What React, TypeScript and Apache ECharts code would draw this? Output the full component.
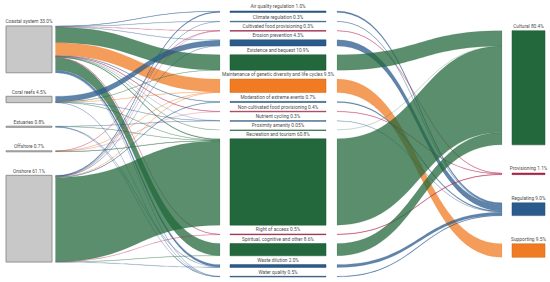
import React, { useEffect, useRef } from 'react';
import * as echarts from 'echarts';

// ---------- data ----------
const sources = ['Coastal system', 'Coral reefs', 'Estuaries', 'Offshore', 'Onshore'];
const sourcePct = [33.0, 4.5, 0.8, 0.7, 61.1];
const sourceLabels = ['33.0%', '4.5%', '0.8%', '0.7%', '61.1%'];

const services = [
  'Air quality regulation',
  'Climate regulation',
  'Cultivated food provisioning',
  'Erosion prevention',
  'Existence and bequest',
  'Maintenance of genetic diversity and life cycles',
  'Moderation of extreme events',
  'Non-cultivated food provisioning',
  'Nutrient cycling',
  'Proximity amenity',
  'Recreation and tourism',
  'Right of access',
  'Spiritual, cognitive and other',
  'Waste dilution',
  'Water quality',
];
const servicePct = [1.0, 0.3, 0.3, 4.3, 10.9, 9.5, 0.7, 0.4, 0.3, 0.05, 60.8, 0.5, 8.6, 2.0, 0.5];
const serviceLabels = ['1.0%', '0.3%', '0.3%', '4.3%', '10.9%', '9.5%', '0.7%', '0.4%', '0.3%', '0.05%', '60.8%', '0.5%', '8.6%', '2.0%', '0.5%'];
const serviceGroup = [
  'Regulating', 'Regulating', 'Provisioning', 'Regulating', 'Cultural', 'Supporting', 'Regulating',
  'Provisioning', 'Regulating', 'Cultural', 'Cultural', 'Provisioning', 'Cultural', 'Regulating', 'Regulating',
];

const groups = ['Cultural', 'Provisioning', 'Regulating', 'Supporting'];
const groupPct = [80.4, 1.1, 9.0, 9.5];
const groupLabels = ['80.4%', '1.1%', '9.0%', '9.5%'];

// flows from each source to each service (same order as services)
const coastalFlows = [0.3, 0.2, 0.2, 0.3, 10.8, 9.0, 0.4, 0.3, 0.1, 0.05, 0.6, 0.4, 8.5, 1.6, 0.15];
const coralFlows = [0, 0, 0, 3.9, 0.1, 0.1, 0, 0, 0.05, 0, 0.3, 0, 0, 0, 0.05];
const estuaryFlows = [0, 0, 0, 0, 0, 0, 0, 0, 0.15, 0, 0.2, 0, 0, 0.15, 0.3];
const offshoreFlows = [0, 0, 0.05, 0, 0, 0.15, 0, 0.1, 0, 0, 0.4, 0, 0, 0, 0];
const onshoreFlows = [0.7, 0.1, 0.05, 0.1, 0, 0.25, 0.3, 0, 0, 0, 59.3, 0.1, 0.1, 0.25, 0];
const sourceFlows = [coastalFlows, coralFlows, estuaryFlows, offshoreFlows, onshoreFlows];

// ---------- styling / layout ----------
const groupColor: Record<string, string> = {
  Cultural: '#23683c',
  Provisioning: '#b3264f',
  Regulating: '#2b5b8c',
  Supporting: '#f07b22',
};
const groupStroke: Record<string, string> = {
  Cultural: '#1b5430',
  Provisioning: '#8f1d3f',
  Regulating: '#214a72',
  Supporting: '#c9641a',
};

const W = 550;
const H = 282;
const PX_PER_UNIT = 1.42;
const Y_MAX = H / PX_PER_UNIT;
const CENTER = 144 / PX_PER_UNIT;
const COL = {
  left: { x0: 6, x1: 52, out: 55.5, gap: 23.5 / PX_PER_UNIT },
  mid: { x0: 230, x1: 326, in: 220, out: 337, gap: 8.84 / PX_PER_UNIT },
  right: { x0: 512, x1: 545, in: 502, gap: 28.2 / PX_PER_UNIT },
};

function stack(values: number[], gap: number) {
  const total = values.reduce((a, b) => a + b, 0) + gap * (values.length - 1);
  let y = CENTER - total / 2;
  return values.map((v) => {
    const top = y;
    y += v + gap;
    return top;
  });
}

function buildOption() {
  const leftTop = stack(sourcePct, COL.left.gap);
  const midTop = stack(servicePct, COL.mid.gap);
  const rightTop = stack(groupPct, COL.right.gap);

  // nodes: [x0, x1, yTop, yBot, kind, index]
  const nodes: any[] = [];
  sources.forEach((s, i) => nodes.push([COL.left.x0, COL.left.x1, leftTop[i], leftTop[i] + sourcePct[i], 0, i]));
  services.forEach((s, i) => nodes.push([COL.mid.x0, COL.mid.x1, midTop[i], midTop[i] + servicePct[i], 1, i]));
  groups.forEach((g, i) => nodes.push([COL.right.x0, COL.right.x1, rightTop[i], rightTop[i] + groupPct[i], 2, i]));

  // links: [x0, y0, x1, y1, value, groupIndex]
  const links: any[] = [];
  const srcOffset = sources.map(() => 0);
  const midInOffset = services.map(() => 0);
  const srcStart: number[][] = sources.map(() => []);
  sources.forEach((s, si) => {
    services.forEach((sv, ti) => {
      const v = sourceFlows[si][ti];
      srcStart[si][ti] = leftTop[si] + srcOffset[si];
      srcOffset[si] += v;
    });
  });
  sources.forEach((s, si) => {
    services.forEach((sv, ti) => {
      const v = sourceFlows[si][ti];
      if (v > 0) {
        const yEnd = midTop[ti] + midInOffset[ti];
        links.push([COL.left.out, srcStart[si][ti], COL.mid.in, yEnd, v, groups.indexOf(serviceGroup[ti])]);
      }
      midInOffset[ti] += v;
    });
  });
  const rightOffset = groups.map(() => 0);
  services.forEach((sv, ti) => {
    const gi = groups.indexOf(serviceGroup[ti]);
    const v = servicePct[ti];
    links.push([COL.mid.out, midTop[ti], COL.right.in, rightTop[gi] + rightOffset[gi], v, gi]);
    rightOffset[gi] += v;
  });

  const labelFont = 'Roboto';
  const labelSize = 4.8;

  return {
    animation: false,
    grid: { left: 0, right: 0, top: 0, bottom: 0, containLabel: false },
    xAxis: { type: 'value', min: 0, max: W, show: false },
    yAxis: { type: 'value', min: 0, max: Y_MAX, inverse: true, show: false },
    series: [
      {
        type: 'custom',
        name: 'links',
        clip: false,
        data: links,
        renderItem: (params: any, api: any) => {
          const x0 = api.value(0);
          const y0 = api.value(1);
          const x1 = api.value(2);
          const y1 = api.value(3);
          const v = api.value(4);
          const g = groups[api.value(5)];
          const a = api.coord([x0, y0]);
          const ab = api.coord([x0, y0 + v]);
          const b = api.coord([x1, y1]);
          const bb = api.coord([x1, y1 + v]);
          const xm = (a[0] + b[0]) / 2;
          const d =
            `M${a[0]},${a[1]} C${xm},${a[1]} ${xm},${b[1]} ${b[0]},${b[1]} ` +
            `L${bb[0]},${bb[1]} C${xm},${bb[1]} ${xm},${ab[1]} ${ab[0]},${ab[1]} Z`;
          const c = echarts.color.modifyAlpha(groupColor[g], 0.75);
          const sc = echarts.color.modifyAlpha(groupColor[g], 0.3);
          return {
            type: 'path',
            shape: { pathData: d },
            style: { fill: c, stroke: sc, lineWidth: 0.45 },
          };
        },
      },
      {
        type: 'custom',
        name: 'nodes',
        clip: false,
        data: nodes,
        renderItem: (params: any, api: any) => {
          const x0 = api.value(0);
          const x1 = api.value(1);
          const yt = api.value(2);
          const yb = api.value(3);
          const kind = api.value(4);
          const idx = api.value(5);
          const p0 = api.coord([x0, yt]);
          const p1 = api.coord([x1, yb]);
          const h = Math.max(p1[1] - p0[1], 0.6);
          let fill = '#c8c8c8';
          let stroke = '#8a8a8a';
          let label = '';
          if (kind === 0) {
            label = `${sources[idx]} ${sourceLabels[idx]}`;
          } else if (kind === 1) {
            const g = serviceGroup[idx];
            fill = groupColor[g];
            stroke = groupStroke[g];
            label = `${services[idx]} ${serviceLabels[idx]}`;
          } else {
            const g = groups[idx];
            fill = groupColor[g];
            stroke = groupStroke[g];
            label = `${groups[idx]} ${groupLabels[idx]}`;
          }
          return {
            type: 'group',
            children: [
              {
                type: 'rect',
                shape: { x: p0[0], y: p0[1], width: p1[0] - p0[0], height: h },
                style: { fill, stroke, lineWidth: kind === 0 ? 0.9 : 0.5 },
              },
              {
                type: 'text',
                x: (p0[0] + p1[0]) / 2,
                y: p0[1] - 1.6,
                style: {
                  text: label,
                  fill: '#4d4d4d',
                  fontSize: labelSize,
                  fontFamily: labelFont,
                  align: 'center',
                  verticalAlign: 'bottom',
                },
              },
            ],
          };
        },
      },
    ],
  };
}

export default function App() {
  const ref = useRef<HTMLDivElement>(null);
  useEffect(() => {
    document.body.style.margin = '0';
    if (!ref.current) return;
    const chart = echarts.init(ref.current, null, { renderer: 'svg' });
    chart.setOption(buildOption() as any);
    return () => chart.dispose();
  }, []);
  return <div ref={ref} style={{ width: W, height: H, background: '#ffffff' }} />;
}
